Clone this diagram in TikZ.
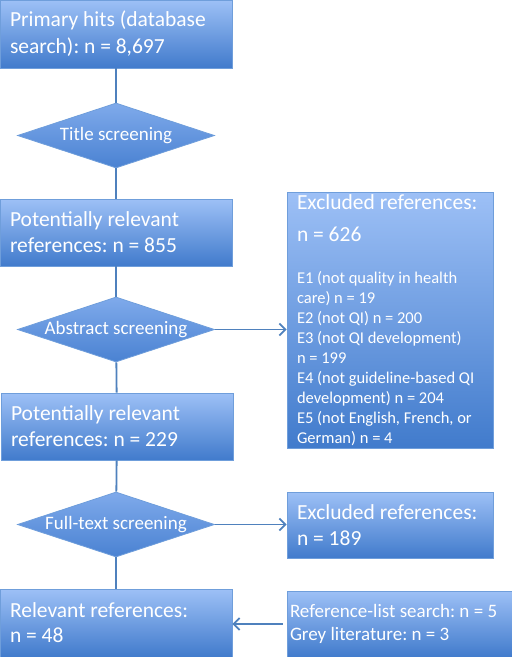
\documentclass[tikz,border=0pt]{standalone}
\usepackage{fontspec}
\setmainfont{Carlito}
\frenchspacing
\usetikzlibrary{shapes.geometric,arrows.meta}
\definecolor{boxtop}{HTML}{9DC0F6}
\definecolor{boxbot}{HTML}{417BCC}
\definecolor{boxline}{HTML}{6F9EDB}
\definecolor{diatop}{HTML}{7FAAEB}
\definecolor{diabot}{HTML}{4A82D2}
\definecolor{flow}{HTML}{4F81BD}
\tikzset{
  box/.style={draw=boxline, line width=0.8pt, top color=boxtop, bottom color=boxbot,
    text=white, align=flush left, inner xsep=10pt, inner ysep=0pt, text width=212pt,
    minimum height=67pt, font=\fontsize{21.5}{26}\selectfont},
  decision/.style={diamond, aspect=3, draw=boxline, line width=0.8pt, top color=diatop,
    bottom color=diabot, text=white, inner sep=0pt, minimum width=197pt,
    minimum height=65pt, font=\fontsize{19}{22}\selectfont},
  flowline/.style={draw=flow, line width=1.8pt},
  flowarrow/.style={flowline, -{Straight Barb[length=6pt,width=12pt]}}
}
\begin{document}
\begin{tikzpicture}[x=1pt,y=-1pt]
  \useasboundingbox (0,0) rectangle (512,657);
  % left column
  \node[box, minimum height=68pt, font=\fontsize{21.5}{27}\selectfont] (hits) at (116,34) {Primary hits (database\\search): n = 8,697};
  \node[decision] (title) at (116,135.5) {Title screening};
  \node[box] (rel855) at (116,232.5) {Potentially relevant\\references: n = 855};
  \node[decision] (abstract) at (116,329.5) {Abstract screening};
  \node[box] (rel229) at (117,426.5) {Potentially relevant\\references: n = 229};
  \node[decision] (fulltext) at (116,524.5) {Full-text screening};
  \node[box, minimum height=68pt, font=\fontsize{21.5}{25}\selectfont] (relevant) at (116,623) {Relevant references:\\n = 48};
  % right column
  \node[box, text width=186pt, minimum height=256pt] (excl626) at (390,320)
    {\vspace*{6pt}Excluded references:\\n = 626\par\vspace{22pt}\fontsize{16.5}{20}\selectfont
     E1 (not quality in health\\care) n = 19\\E2 (not QI) n = 200\\E3 (not QI development)\\n = 199\\E4 (not guideline-based QI\\development) n = 204\\E5 (not English, French, or\\German) n = 4\par};
  \node[box, text width=186pt, minimum height=66pt] (excl189) at (390,525) {Excluded references:\\n = 189};
  \node[box, text width=219pt, inner xsep=3pt, minimum height=66pt, font=\fontsize{19}{23}\selectfont] (extra) at (399.5,624)
    {Reference-list search: n = 5\\Grey literature: n = 3};
  % connectors
  \draw[flowline] (hits) -- (title);
  \draw[flowline] (title) -- (rel855);
  \draw[flowline] (rel855) -- (abstract);
  \draw[flowline] (abstract) -- (rel229);
  \draw[flowline] (rel229) -- (fulltext);
  \draw[flowline] (fulltext) -- (relevant);
  \draw[flowarrow] (abstract.east) -- (abstract.east -| excl626.west);
  \draw[flowarrow] (fulltext.east) -- (fulltext.east -| excl189.west);
  \draw[flowarrow, shorten <=4pt] (extra.west) -- (extra.west -| relevant.east);
\end{tikzpicture}
\end{document}
